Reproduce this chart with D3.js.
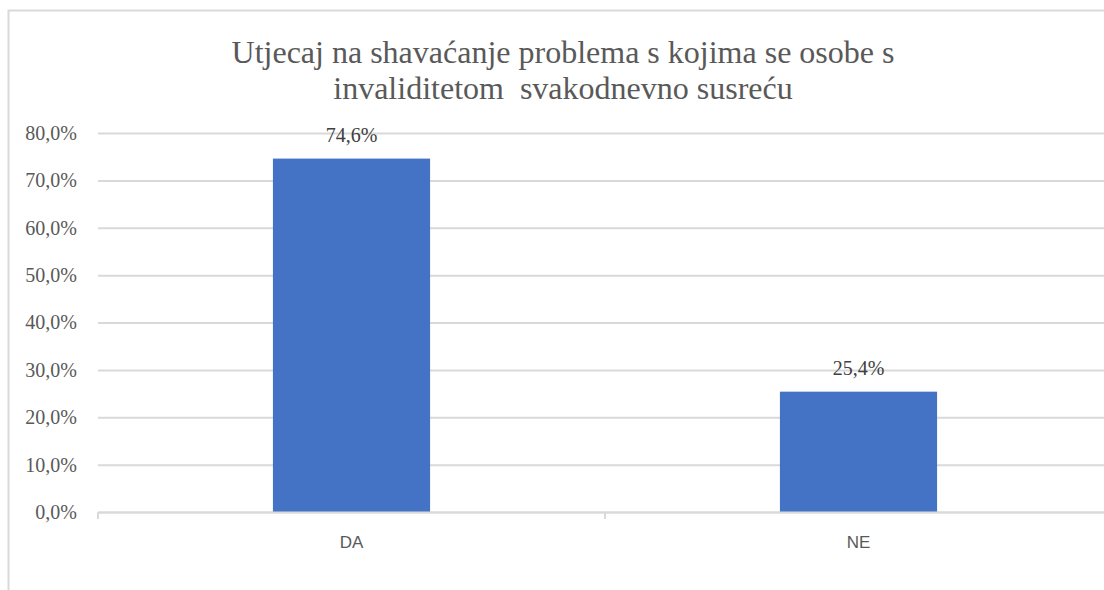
<!DOCTYPE html>
<html>
<head>
<meta charset="utf-8">
<script src="https://cdn.jsdelivr.net/npm/d3@7"></script>
<style>
	html, body { margin: 0; padding: 0; background: #fff; overflow: hidden; }
</style>
</head>
<body>
<div id="chart"></div>
<script>
const categories = ['DA', 'NE'];
const values = [74.6, 25.4];
const yTicks = [0, 10, 20, 30, 40, 50, 60, 70, 80];
const titleLines = ['Utjecaj na shavaćanje problema s kojima se osobe s', 'invaliditetom  svakodnevno susreću'];

const W = 1104;
const H = 590;
const margin = {t:133, r:-8, b:78, l:98};
const innerWidth = W - margin.l - margin.r;
const innerHeight = H - margin.t - margin.b;
const serif = "'Liberation Serif', 'Times New Roman', Times, 'DejaVu Serif', serif";

const fmt = v => v.toFixed(1).replace('.', ',') + '%';

const scaleX = d3.scaleBand().domain(categories).range([0, innerWidth]).padding(0);
const scaleY = d3.scaleLinear().domain([0, 80]).range([innerHeight, 0]);
const barW = scaleX.bandwidth() * 0.31;

const svg = d3.select('#chart').append('svg')
	.attr('width', W)
	.attr('height', H);

//chart frame (left and top edges visible)
svg.append('path')
	.attr('d', `M8.5,${H} V10.5 H${W}`)
	.attr('fill', 'none')
	.attr('stroke', '#d9d9d9')
	.attr('stroke-width', 2);

//title
svg.append('text')
	.attr('x', 563)
	.attr('y', 63)
	.attr('font-family', serif)
	.attr('font-size', 32)
	.attr('text-anchor', 'middle')
	.attr('fill', '#595959')
	.style('white-space', 'pre')
	.selectAll('tspan')
	.data(titleLines)
	.join('tspan')
	.attr('x', 563)
	.attr('dy', (d, i) => i ? 36 : 0)
	.text(d => d);

const plot = svg.append('g')
	.attr('transform', `translate(${margin.l}, ${margin.t})`);

//gridlines + y labels
const axisY = d3.axisLeft(scaleY)
	.tickValues(yTicks)
	.tickSize(-innerWidth)
	.tickPadding(21)
	.tickFormat(fmt);

plot.append('g')
	.attr('class', 'axis axis-y')
	.call(axisY)
	.attr('font-family', serif)
	.attr('font-size', 20)
	.call(g => g.select('.domain').remove())
	.call(g => g.selectAll('line').attr('stroke', '#d9d9d9').attr('stroke-width', 2))
	.call(g => g.selectAll('text').attr('fill', '#595959'));

//bars
plot.selectAll('.bar')
	.data(values)
	.join('rect')
	.attr('class', 'bar')
	.attr('x', (d, i) => scaleX(categories[i]) + scaleX.bandwidth() / 2 - barW / 2)
	.attr('y', d => scaleY(d))
	.attr('width', barW)
	.attr('height', d => innerHeight - scaleY(d))
	.attr('fill', '#4472c4');

//value labels
plot.selectAll('.value')
	.data(values)
	.join('text')
	.attr('class', 'value')
	.attr('x', (d, i) => scaleX(categories[i]) + scaleX.bandwidth() / 2)
	.attr('y', d => scaleY(d) - 17)
	.attr('text-anchor', 'middle')
	.attr('font-family', serif)
	.attr('font-size', 20)
	.attr('fill', '#404040')
	.text(fmt);

//x axis
const axisX = d3.axisBottom(scaleX).tickSize(0).tickPadding(24);
const gx = plot.append('g')
	.attr('class', 'axis axis-x')
	.attr('transform', `translate(0, ${innerHeight})`)
	.call(axisX)
	.attr('font-family', "'Liberation Sans', Arial, sans-serif")
	.attr('font-size', 17);
gx.select('.domain').attr('stroke', '#d9d9d9').attr('stroke-width', 2);
gx.selectAll('text').attr('fill', '#595959');

//category separator ticks
gx.selectAll('.sep')
	.data(categories.concat(['end']))
	.join('line')
	.attr('class', 'sep')
	.attr('x1', (d, i) => i * scaleX.step())
	.attr('x2', (d, i) => i * scaleX.step())
	.attr('y1', 0).attr('y2', 7)
	.attr('stroke', '#d9d9d9')
	.attr('stroke-width', 2);
</script>
</body>
</html>
